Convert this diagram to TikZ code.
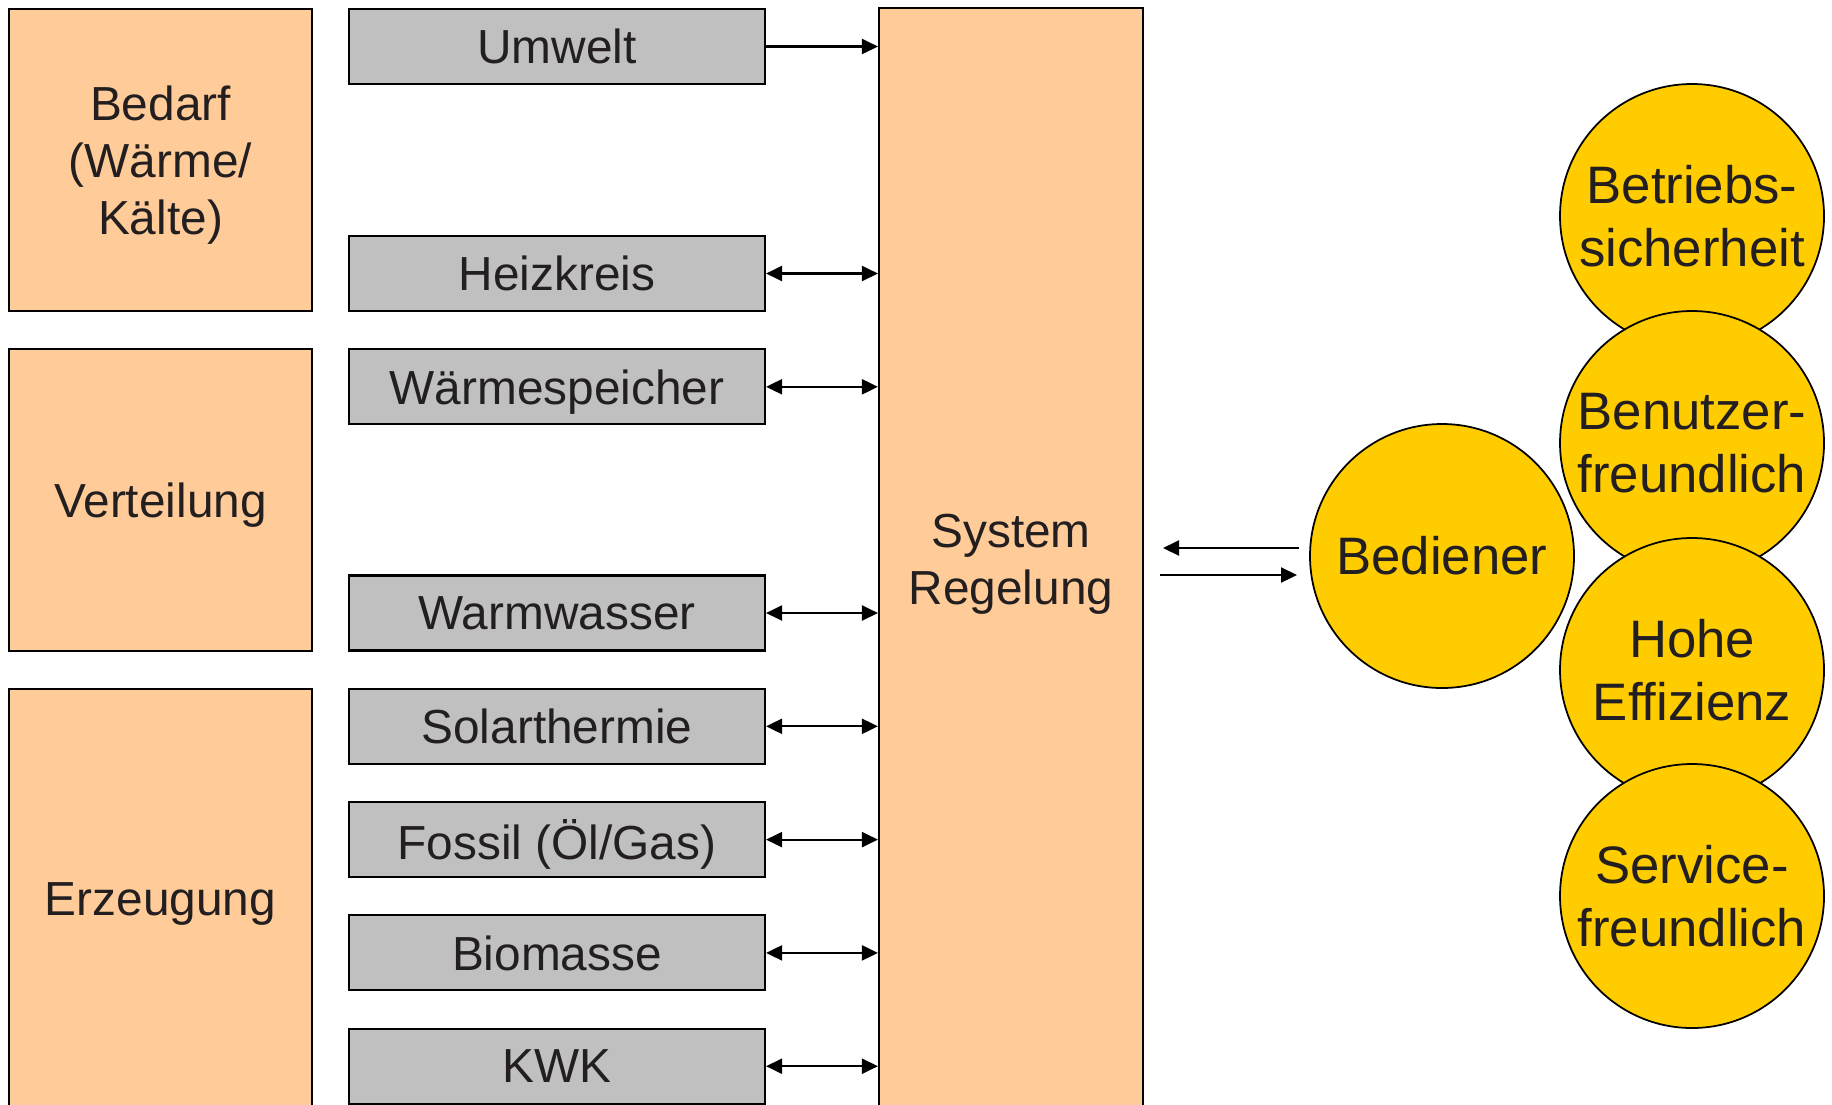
\documentclass[tikz,border=0pt]{standalone}
\usepackage{fontspec}
\setmainfont{Liberation Sans}
\usetikzlibrary{arrows.meta}

\definecolor{boxorange}{RGB}{255,204,153}
\definecolor{boxgray}{RGB}{192,192,192}
\definecolor{goalyellow}{RGB}{255,204,0}
\definecolor{txt}{RGB}{35,31,32}

\tikzset{
  area/.style={draw, fill=boxorange, line width=0.6pt, minimum width=30.3mm,
    align=center, text depth=0pt, text=txt, font=\fontsize{13.6}{16.2}\selectfont},
  part/.style={draw, fill=boxgray, line width=0.6pt, minimum width=41.6mm,
    minimum height=7.5mm, text depth=0pt, text=txt, font=\fontsize{13.6}{16.2}\selectfont},
  goal/.style={draw, circle, fill=goalyellow, line width=0.5pt, minimum size=26.4mm,
    inner sep=0pt, align=center, text=txt, font=\fontsize{15}{17.9}\selectfont},
  link/.style={line width=0.6pt, -{Triangle[length=1.6mm,width=1.5mm]}},
  both/.style={line width=0.6pt, {Triangle[length=1.6mm,width=1.5mm]}-{Triangle[length=1.6mm,width=1.5mm]}}
}

\begin{document}
\begin{tikzpicture}[x={0.1mm},y={-0.1mm}]
\clip (0,0) rectangle (1832,1104);
\fill[white] (0,0) rectangle (1832,1104);

\node [area, minimum height=30.2mm] (bedarf) at (160.5,160) {Bedarf\\(Wärme/\\Kälte)};
\node [area, minimum height=30.2mm] (verteilung) at (160.5,500) {Verteilung};
\node [area, minimum height=42.1mm] (erzeugung) at (160.5,899.5) {Erzeugung};

\node [part] (umwelt) at (557,46.5) {Umwelt};
\node [part] (heizkreis) at (557,273.5) {Heizkreis};
\node [part] (speicher) at (557,386.8) {Wärmespeicher};
\node [part] (warmwasser) at (557,613) {Warmwasser};
\node [part] (solar) at (557,726.3) {Solarthermie};
\node [part] (fossil) at (557,839.6) {Fossil (Öl/Gas)};
\node [part] (biomasse) at (557,952.9) {Biomasse};
\node [part] (kwk) at (557,1066.2) {KWK};

\node [area, minimum width=26.4mm, minimum height=110.2mm] (regelung) at (1011,559) {System\\Regelung};

\draw[link] (umwelt.east) -- (umwelt.east -| regelung.west);
\foreach \p in {heizkreis,speicher,warmwasser,solar,fossil,biomasse,kwk}
  \draw[both] (\p.east) -- (\p.east -| regelung.west);

\node [goal] (bediener) at (1442,556) {Bediener};

\coordinate (inA) at (1299,548);
\coordinate (inB) at (1163,548);
\coordinate (outA) at (1160,575);
\coordinate (outB) at (1297,575);
\draw[link] (inA) -- (inB);
\draw[link] (outA) -- (outB);

\node [goal] (sicherheit) at (1692,216) {Betriebs-\\sicherheit};
\node [goal] (benutzer) at (1692,443) {Benutzer-\\freundlich};
\node [goal] (effizienz) at (1692,670) {Hohe\\Effizienz};
\node [goal] (service) at (1692,896) {Service-\\freundlich};

\end{tikzpicture}
\end{document}
